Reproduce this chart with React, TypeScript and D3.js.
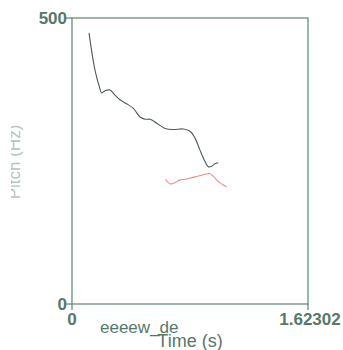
import React from "react";
import * as d3 from "d3";

const blackTimes = [0.117, 0.158, 0.188, 0.204, 0.227, 0.261, 0.296, 0.33, 0.376, 0.422, 0.468, 0.502, 0.536, 0.583, 0.64, 0.697, 0.765, 0.812, 0.846, 0.88, 0.915, 0.937, 0.961, 0.983, 1.006];
const blackPitch = [474, 409, 380, 369, 373, 374, 365, 357, 350, 342, 327, 323, 323, 316, 307, 305, 306, 302, 290, 269, 249, 240, 241, 245, 247];
const redTimes = [0.644, 0.674, 0.708, 0.743, 0.777, 0.812, 0.858, 0.903, 0.944, 0.972, 1.006, 1.064];
const redPitch = [218, 210, 212, 217, 218, 220, 223, 226, 228, 223, 214, 205];
const xDomain = [0, 1.62302];
const yDomain = [0, 500];
const xTickLabels = ["0", "1.62302"];
const yTickLabels = ["0", "500"];

export default function App() {
  const left = 72, right = 308, top = 18, bottom = 304;
  const x = d3.scaleLinear().domain(xDomain).range([left, right]);
  const y = d3.scaleLinear().domain(yDomain).range([bottom, top]);
  const line = d3
    .line<[number, number]>()
    .x((d) => x(d[0]))
    .y((d) => y(d[1]))
    .curve(d3.curveCatmullRom);
  const black = line(blackTimes.map((t, i) => [t, blackPitch[i]] as [number, number])) || "";
  const red = line(redTimes.map((t, i) => [t, redPitch[i]] as [number, number])) || "";
  const axisColor = "#5b8575";
  const textColor = "#55786b";
  const font = "Liberation Sans, Arial, sans-serif";
  return (
    <svg width={343} height={350} style={{ position: "absolute", left: 0, top: 0, background: "#fff" }}>
      <defs>
        <clipPath id="ylab">
          <rect x={11} y={0} width={20} height={350} />
        </clipPath>
      </defs>
      <rect x={left} y={top} width={right - left} height={bottom - top} fill="none" stroke={axisColor} strokeWidth={1.2} />
      {yDomain.map((v, i) => (
        <g key={"yt" + i}>
          <line x1={left - 6} x2={left} y1={y(v)} y2={y(v)} stroke={axisColor} strokeWidth={1.2} />
          <text x={left - 5} y={y(v)} dy="0.35em" textAnchor="end" fontFamily={font} fontSize={17} fontWeight="bold" fill={textColor}>
            {yTickLabels[i]}
          </text>
        </g>
      ))}
      {xDomain.map((v, i) => (
        <g key={"xt" + i}>
          <line x1={x(v)} x2={x(v)} y1={bottom} y2={bottom + 6} stroke={axisColor} strokeWidth={1.2} />
          <text x={x(v) + (i === 1 ? 2 : 0)} y={bottom + 21} textAnchor="middle" fontFamily={font} fontSize={17} fontWeight="bold" fill={textColor}>
            {xTickLabels[i]}
          </text>
        </g>
      ))}
      <text x={100} y={333} fontFamily={font} fontSize={17} fill={textColor}>eeeew_de</text>
      <text x={(left + right) / 2} y={347} textAnchor="middle" fontFamily={font} fontSize={18} fill={textColor}>Time (s)</text>
      <g clipPath="url(#ylab)">
        <text transform="translate(20,162) rotate(-90)" textAnchor="middle" fontFamily={font} fontSize={17} fill="#b8c4bf">Pitch (Hz)</text>
      </g>
      <path d={black} fill="none" stroke="#4d5c57" strokeWidth={1.1} />
      <path d={red} fill="none" stroke="#ec8a8a" strokeWidth={1.1} />
    </svg>
  );
}
